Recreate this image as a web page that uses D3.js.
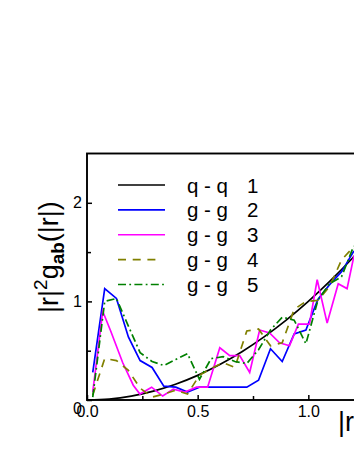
<!DOCTYPE html>
<html>
<head>
<meta charset="utf-8">
<script src="https://cdn.jsdelivr.net/npm/d3@7"></script>
<style>
  body { margin: 0; background: #fff; }
  svg { display: block; font-family: "Liberation Sans", Arial, sans-serif; }
</style>
</head>
<body>
<svg id="chart" width="354" height="458"></svg>
<script>
// values
const gridX = [0.026, 0.080, 0.133, 0.187, 0.240, 0.294, 0.347, 0.401, 0.454, 0.508,
               0.561, 0.615, 0.668, 0.722, 0.775, 0.829, 0.882, 0.936, 0.989, 1.043,
               1.096, 1.150, 1.203, 1.257, 1.310];

const qqX = [0, 0.1, 0.2, 0.3, 0.4, 0.5, 0.6, 0.7, 0.8, 0.9, 1.0, 1.1, 1.2, 1.3, 1.4];
const qqY = [0, 0.01, 0.04, 0.09, 0.16, 0.25, 0.36, 0.49, 0.64, 0.81, 1.0, 1.21, 1.44, 1.69, 1.96];

const gg2 = [0.28, 1.13, 1.03, 0.64, 0.40, 0.33, 0.14, 0.13, 0.08, 0.13, 0.13, 0.13, 0.13,
             0.13, 0.20, 0.52, 0.39, 0.67, 0.71, 1.02, 1.17, 1.30, 1.50, 1.62, 1.75];

const gg3X = [0.026, 0.071, 0.107, 0.161, 0.209, 0.239, 0.292, 0.342, 0.390, 0.442, 0.495,
              0.545, 0.600, 0.645, 0.690, 0.735, 0.780, 0.825, 0.870, 0.915, 0.955, 1.005,
              1.040, 1.085, 1.135, 1.175, 1.205, 1.250];
const gg3Y = [0.08, 0.90, 0.70, 0.38, 0.15, 0.06, 0.13, 0.04, 0.11, 0.08, 0.13,
              0.13, 0.53, 0.45, 0.45, 0.28, 0.71, 0.68, 0.58, 0.55, 0.77, 0.77,
              1.22, 0.78, 1.18, 1.13, 1.45, 1.60];

const gg4 = [0.05, 0.42, 0.40, 0.30, 0.12, 0.03, 0.06, 0.10, 0.06, 0.25, 0.32, 0.38, 0.33,
             0.70, 0.72, 0.55, 0.58, 0.92, 1.00, 1.01, 1.15, 1.42, 1.55, 1.45, 1.70];

const gg5 = [0.03, 1.00, 1.03, 0.75, 0.48, 0.39, 0.35, 0.41, 0.47, 0.21, 0.42, 0.44, 0.39,
             0.37, 0.51, 0.71, 0.84, 0.81, 0.57, 1.01, 1.18, 1.25, 1.55, 1.65, 1.80];

const legendPairs = ["q - q", "g - g", "g - g", "g - g", "g - g"];
const legendNums = ["1", "2", "3", "4", "5"];

const xMajor = [0, 0.5, 1.0, 1.5];
const xMinor = [0.25, 0.75, 1.25];
const yMajor = [0, 1, 2];
const yMinor = [0.5, 1.5];

const svg = d3.select("#chart");

let padLeft = 87, padTop = 153.5, padBottom = 400, padRight = 419;

const x = d3.scaleLinear().domain([0, 1.5]).range([padLeft, padRight]);
const y = d3.scaleLinear().domain([0, 2.5]).range([padBottom, padTop]);

svg.append("defs").append("clipPath").attr("id", "plotclip")
  .append("rect")
  .attr("x", padLeft).attr("y", padTop)
  .attr("width", padRight - padLeft).attr("height", padBottom - padTop);

let series = [
  { pts: qqX.map((d, i) => [d, qqY[i]]), color: "#000000", dash: null, curve: d3.curveMonotoneX },
  { pts: gridX.map((d, i) => [d, gg2[i]]), color: "#0000ff", dash: null, curve: d3.curveLinear },
  { pts: gg3X.map((d, i) => [d, gg3Y[i]]), color: "#ff00ff", dash: null, curve: d3.curveLinear },
  { pts: gridX.map((d, i) => [d, gg4[i]]), color: "#808000", dash: "8,6.7", curve: d3.curveLinear },
  { pts: gridX.map((d, i) => [d, gg5[i]]), color: "#008000", dash: "8,3.3,1.8,3.3", curve: d3.curveLinear }
];

let lines = svg.append("g").attr("clip-path", "url(#plotclip)");

series.forEach(s => {
  let line = d3.line()
    .x(d => x(d[0]))
    .y(d => y(d[1]))
    .curve(s.curve);
  lines.append("path")
    .datum(s.pts)
    .attr("d", line)
    .attr("fill", "none")
    .attr("stroke", s.color)
    .attr("stroke-width", 1.7)
    .attr("stroke-dasharray", s.dash);
});

// frame
svg.append("rect")
  .attr("x", padLeft).attr("y", padTop)
  .attr("width", padRight - padLeft).attr("height", padBottom - padTop)
  .attr("fill", "none")
  .attr("stroke", "#000")
  .attr("stroke-width", 1.9);

// axes, ticks point inward
let xAxis = svg.append("g")
  .attr("transform", `translate(0,${padBottom})`)
  .call(d3.axisBottom(x).tickValues(xMajor).tickSize(-5).tickPadding(6).tickFormat(d3.format(".1f")));
svg.append("g")
  .attr("transform", `translate(0,${padBottom})`)
  .call(d3.axisBottom(x).tickValues(xMinor).tickSize(-4).tickFormat(""));

let yAxis = svg.append("g")
  .attr("transform", `translate(${padLeft},0)`)
  .call(d3.axisLeft(y).tickValues(yMajor).tickSize(-5).tickPadding(5).tickFormat(d3.format("d")));
svg.append("g")
  .attr("transform", `translate(${padLeft},0)`)
  .call(d3.axisLeft(y).tickValues(yMinor).tickSize(-4).tickFormat(""));

svg.selectAll(".domain").remove();
svg.selectAll(".tick line").attr("stroke", "#000").attr("stroke-width", 1.5);
svg.selectAll(".tick text")
  .attr("font-family", "'Liberation Sans', Arial, sans-serif")
  .attr("font-size", 16)
  .attr("fill", "#000");

yAxis.selectAll(".tick text").filter(d => d === 0).attr("dy", "0.85em");

// axis titles
let yTitle = svg.append("text")
  .attr("transform", `translate(58,${(y(0.95) + y(1.97)) / 2 + 1}) rotate(-90)`)
  .attr("text-anchor", "middle")
  .attr("font-size", 27)
  .attr("fill", "#000");
yTitle.append("tspan").text("|r|");
yTitle.append("tspan").attr("font-size", 19).attr("dy", -11).text("2");
yTitle.append("tspan").attr("dy", 11).text("g");
yTitle.append("tspan").attr("font-size", 19).attr("font-weight", "bold").attr("dy", 6).text("ab");
yTitle.append("tspan").attr("dy", -6).text("(|r|)");

svg.append("text")
  .attr("x", 338)
  .attr("y", 431)
  .attr("font-size", 27)
  .attr("fill", "#000")
  .text("|r|");

// legend
let legend = svg.append("g");
let rowY = d3.scalePoint().domain(d3.range(5)).range([185, 284.5]);

series.forEach((s, i) => {
  let ly = rowY(i);
  legend.append("line")
    .attr("x1", 118).attr("x2", i === 3 ? 158 : 165)
    .attr("y1", ly).attr("y2", ly)
    .attr("stroke", s.color)
    .attr("stroke-width", 1.7)
    .attr("stroke-dasharray", s.dash);
  legend.append("text")
    .attr("x", 187).attr("y", ly + 7.5)
    .attr("font-size", 20.5)
    .attr("fill", "#000")
    .text(legendPairs[i]);
  legend.append("text")
    .attr("x", 247).attr("y", ly + 7.5)
    .attr("font-size", 20.5)
    .attr("fill", "#000")
    .text(legendNums[i]);
});
</script>
</body>
</html>
